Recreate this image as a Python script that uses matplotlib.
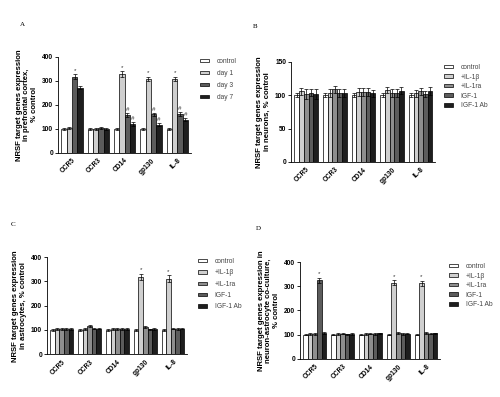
import matplotlib
matplotlib.use("Agg")
import matplotlib.pyplot as plt
import numpy as np

plt.rcParams['font.family'] = ['Liberation Sans', 'DejaVu Sans']

genes = ["CCR5", "CCR3", "CD14", "gp130", "IL-8"]

# Panel A
a_series = ["control", "day 1", "day 3", "day 7"]
a_vals = [
    [100, 100, 100, 100, 100],
    [103, 100, 328, 308, 308],
    [317, 103, 158, 160, 160],
    [272, 101, 120, 118, 138],
]
a_err = [
    [3, 3, 3, 3, 3],
    [4, 5, 12, 8, 8],
    [10, 5, 8, 6, 8],
    [8, 4, 7, 6, 7],
]
a_marks = [
    ["", "", "", "", ""],
    ["", "", "*", "*", "*"],
    ["*", "", "#", "#", "#"],
    ["", "", "#", "#", "#"],
]

treat_series = ["control", "+IL-1\u03b2", "+IL-1ra", "IGF-1", "IGF-1 Ab"]

# Panel B
b_vals = [
    [100, 100, 100, 100, 100],
    [106, 104, 105, 108, 103],
    [102, 109, 105, 104, 106],
    [104, 103, 105, 104, 102],
    [102, 103, 103, 107, 106],
]
b_err = [
    [3, 3, 3, 3, 3],
    [5, 6, 6, 5, 5],
    [7, 5, 6, 6, 5],
    [5, 6, 6, 6, 5],
    [7, 6, 5, 5, 6],
]

# Panel C
c_vals = [
    [100, 100, 100, 100, 100],
    [103, 103, 102, 318, 312],
    [104, 117, 104, 113, 105],
    [103, 105, 102, 102, 102],
    [103, 105, 103, 104, 105],
]
c_err = [
    [3, 3, 3, 3, 3],
    [4, 4, 4, 13, 13],
    [5, 4, 3, 4, 3],
    [4, 3, 4, 3, 4],
    [4, 3, 4, 4, 3],
]
c_marks = [
    ["", "", "", "", ""],
    ["", "", "", "*", "*"],
    ["", "", "", "", ""],
    ["", "", "", "", ""],
    ["", "", "", "", ""],
]

# Panel D
d_vals = [
    [100, 100, 100, 100, 100],
    [104, 104, 104, 315, 312],
    [103, 104, 104, 105, 105],
    [325, 101, 104, 104, 104],
    [105, 103, 105, 104, 105],
]
d_err = [
    [3, 3, 3, 3, 3],
    [4, 4, 4, 10, 11],
    [3, 3, 3, 4, 4],
    [10, 3, 4, 4, 3],
    [4, 3, 3, 3, 3],
]
d_marks = [
    ["", "", "", "", ""],
    ["", "", "", "*", "*"],
    ["", "", "", "", ""],
    ["*", "", "", "", ""],
    ["", "", "", "", ""],
]

colors4 = ["#ffffff", "#cfcfcf", "#5c5c5c", "#1e1e1e"]
colors5 = ["#ffffff", "#cfcfcf", "#8e8e8e", "#5c5c5c", "#1e1e1e"]

fig = plt.figure(figsize=(5.0, 3.97), dpi=100)


def panel(rect, series, vals, errs, marks, colors, ylim, yticks, ylabel,
          leg_xy, leg_spacing, letter, letter_xy):
    ax = fig.add_axes(rect)
    n = len(series)
    group_w = 0.82
    w = group_w / n
    x = np.arange(len(genes))
    for i in range(n):
        pos = x - group_w / 2 + w * (i + 0.5)
        ax.bar(pos, vals[i], width=w, color=colors[i], edgecolor="black",
               linewidth=0.5, label=series[i], zorder=2)
        ax.errorbar(pos, vals[i], yerr=errs[i], fmt="none", ecolor="black",
                    elinewidth=0.5, capsize=1.2, capthick=0.5, zorder=3)
        if marks is not None:
            for j in range(len(genes)):
                if marks[i][j]:
                    ax.text(pos[j], vals[i][j] + errs[i][j] + ylim[1] * 0.015,
                            marks[i][j], ha="center", va="bottom",
                            fontsize=4.5, color="#333333")
    ax.set_xlim(-0.53, len(genes) - 0.5)
    ax.set_ylim(*ylim)
    ax.set_yticks(yticks)
    ax.set_yticklabels([str(t) for t in yticks], fontsize=4.8, fontweight="bold")
    ax.set_xticks(x)
    ax.set_xticklabels(genes, rotation=45, ha="right", rotation_mode="anchor",
                       fontsize=4.8, fontweight="bold")
    ax.tick_params(axis="x", length=0, pad=3)
    ax.tick_params(axis="y", length=2, width=0.6, pad=1.5)
    for s in ["top", "right"]:
        ax.spines[s].set_visible(False)
    for s in ["left", "bottom"]:
        ax.spines[s].set_linewidth(0.6)
    ax.set_ylabel(ylabel, fontsize=5.6, fontweight="bold", labelpad=3,
                  linespacing=1.1)
    leg = ax.legend(loc="upper left", bbox_to_anchor=leg_xy,
                    bbox_transform=fig.transFigure, frameon=False,
                    fontsize=4.8, handlelength=1.3, handleheight=0.45,
                    labelspacing=leg_spacing, handletextpad=1.2,
                    borderpad=0, borderaxespad=0)
    for t in leg.get_texts():
        t.set_color("#444444")
    for h in leg.legend_handles:
        h.set_linewidth(0.5)
    fig.text(letter_xy[0], letter_xy[1], letter, fontsize=5,
             family="Liberation Serif", ha="center", va="center")
    return ax


panel([0.116, 0.615, 0.265, 0.242], a_series, a_vals, a_err, a_marks, colors4,
      (0, 400), [0, 100, 200, 300, 400],
      "NRSF target genes expression\nin prefrontal cortex,\n% control",
      (0.400, 1 - 58 / 397), 0.75, "A", (22 / 500, 1 - 24 / 397))

panel([0.582, 0.592, 0.288, 0.252], treat_series, b_vals, b_err, None, colors5,
      (0, 150), [0, 50, 100, 150],
      "NRSF target genes expression\nin neurons, % control",
      (0.888, 1 - 64 / 397), 0.38, "B", (255 / 500, 1 - 27 / 397))

panel([0.094, 0.108, 0.280, 0.244], treat_series, c_vals, c_err, c_marks, colors5,
      (0, 400), [0, 100, 200, 300, 400],
      "NRSF target genes expression\nin astrocytes, % control",
      (0.396, 1 - 258 / 397), 0.65, "C", (13 / 500, 1 - 224 / 397))

panel([0.600, 0.096, 0.280, 0.244], treat_series, d_vals, d_err, d_marks, colors5,
      (0, 400), [0, 100, 200, 300, 400],
      "NRSF target genes expression in\nneuron-astrocyte co-culture,\n% control",
      (0.898, 1 - 263 / 397), 0.38, "D", (258 / 500, 1 - 228 / 397))

fig.savefig("out.png", dpi=100)
